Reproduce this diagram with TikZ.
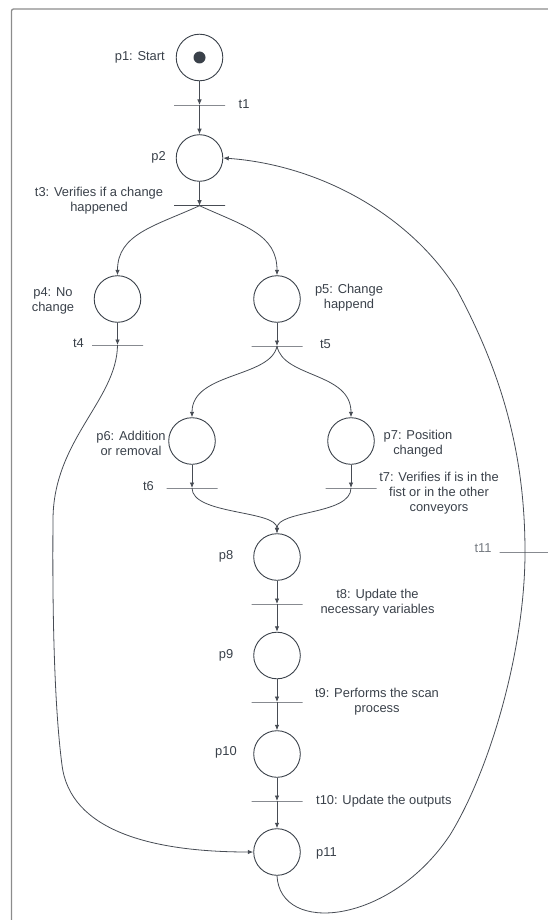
\documentclass[tikz,border=0pt]{standalone}
\usepackage{fontspec}
\setmainfont{Liberation Sans}
\usetikzlibrary{arrows.meta}
\definecolor{ink}{HTML}{3A414A}
\definecolor{wire}{HTML}{474C54}
\definecolor{framegray}{HTML}{8C8C8C}
\definecolor{softlabel}{HTML}{767B82}

\begin{document}
\begin{tikzpicture}[x=1pt,y=-1pt,
  place/.style={circle, draw=ink, line width=0.9pt, minimum size=46.6pt, inner sep=0pt},
  tbar/.style={rectangle, draw=wire, line width=0.9pt, minimum width=51pt, minimum height=0pt, inner sep=0pt},
  token/.style={circle, fill=ink, minimum size=12pt, inner sep=0pt},
  lbl/.style={text=ink, font=\fontsize{12.9}{15.3}\selectfont, inner sep=0pt, align=center},
  arc/.style={draw=wire, line width=0.8pt, -{Latex[length=5.5pt,width=4.5pt]}},
  plain/.style={draw=wire, line width=0.8pt},
]
\useasboundingbox (0,0) rectangle (548,920);
\clip (0,0) rectangle (548,920);

% outer frame
\draw[framegray, line width=1.3pt, rounded corners=2pt] (11.5,9) rectangle (580,950);

% places
\node[place] (p1)  at (199.5,57.5) {};
\node[token] (tok) at (p1.center) {};
\node[place] (p2)  at (199.5,158) {};
\node[place] (p4)  at (117.5,299) {};
\node[place] (p5)  at (277,299) {};
\node[place] (p6)  at (192,441) {};
\node[place] (p7)  at (351,441) {};
\node[place] (p8)  at (277,557) {};
\node[place] (p9)  at (277,655.5) {};
\node[place] (p10) at (277,754) {};
\node[place] (p11) at (277,852) {};

% transitions
\node[tbar] (t1)  at (199.5,105) {};
\node[tbar] (t3)  at (199.5,205.7) {};
\node[tbar] (t4)  at (117.5,345) {};
\node[tbar] (t5)  at (277,346) {};
\node[tbar] (t6)  at (192,488) {};
\node[tbar] (t7)  at (351,488) {};
\node[tbar] (t8)  at (277,604) {};
\node[tbar] (t9)  at (277,702) {};
\node[tbar] (t10) at (277,801) {};
\node[tbar] (t11) at (525,552) {};

% labels
\node[lbl, anchor=east] (lp1) at (165,57.5) {p1: Start};
\node[lbl, anchor=east] (lp2) at (166,157) {p2};
\node[lbl, anchor=west] (lt1) at (238.5,104) {t1};
\node[lbl] (lt3) at (99,201) {t3: Verifies if a change\\happened};
\node[lbl] (lp4) at (53,301) {p4: No\\change};
\node[lbl] (lp5) at (349,298) {p5: Change\\happend};
\node[lbl] (lt4) at (78.5,343) {t4};
\node[lbl] (lt5) at (325.5,344) {t5};
\node[lbl] (lp6) at (131,443.5) {p6: Addition\\or removal};
\node[lbl] (lp7) at (418,443.5) {p7: Position\\changed};
\node[lbl] (lt6) at (148.5,486) {t6};
\node[lbl] (lt7) at (439,493) {t7: Verifies if is in the\\fist or in the other\\conveyors};
\node[lbl] (lp8) at (226,556.5) {p8};
\node[lbl] (lt8) at (377.5,603) {t8: Update the\\necessary variables};
\node[lbl] (lp9) at (226,655) {p9};
\node[lbl] (lt9) at (377,701.5) {t9: Performs the scan\\process};
\node[lbl] (lp10) at (226,752.5) {p10};
\node[lbl, anchor=west] (lt10) at (316,801.5) {t10: Update the outputs};
\node[lbl, anchor=west] (lp11) at (316,853) {p11};
\node[lbl, text=softlabel] (lt11) at (483,548) {t11};

% main column
\draw[arc] (p1) -- (t1.center);
\draw[arc] (t1.center) -- (p2);
\draw[arc] (p2) -- (t3.center);
\draw[arc] (t3.center) .. controls (155,226) and (117.5,234) .. (p4.north);
\draw[arc] (t3.center) .. controls (244,226) and (277,234) .. (p5.north);
\draw[arc] (p4) -- (t4.center);
\draw[arc] (p5) -- (t5.center);
\draw[arc] (t5.center) .. controls (271,378) and (192,372) .. (p6.north);
\draw[arc] (t5.center) .. controls (283,378) and (351,372) .. (p7.north);
\draw[arc] (p6) -- (t6.center);
\draw[arc] (p7) -- (t7.center);
\draw[arc] (t6.center) .. controls (192,515) and (277,510) .. (p8.north);
\draw[arc] (t7.center) .. controls (351,515) and (277,510) .. (p8.north);
\draw[arc] (p8) -- (t8.center);
\draw[arc] (t8.center) -- (p9);
\draw[arc] (p9) -- (t9.center);
\draw[arc] (t9.center) -- (p10);
\draw[arc] (p10) -- (t10.center);
\draw[arc] (t10.center) -- (p11);

% left return: t4 to p11
\draw[arc] (t4.center) .. controls (117,400) and (53,440) .. (53,520)
  .. controls (52,640) and (56,720) .. (62,765)
  .. controls (70,830) and (150,852) .. (p11.west);

% right loop: p11 to t11 to p2
\draw[plain] (p11.south) .. controls (280,935) and (390,925) .. (450,835)
  .. controls (490,770) and (525,650) .. (t11.center);
\draw[arc] (t11.center) .. controls (525,450) and (500,370) .. (457,290)
  .. controls (410,215) and (320,165) .. (p2.east);
\end{tikzpicture}
\end{document}
